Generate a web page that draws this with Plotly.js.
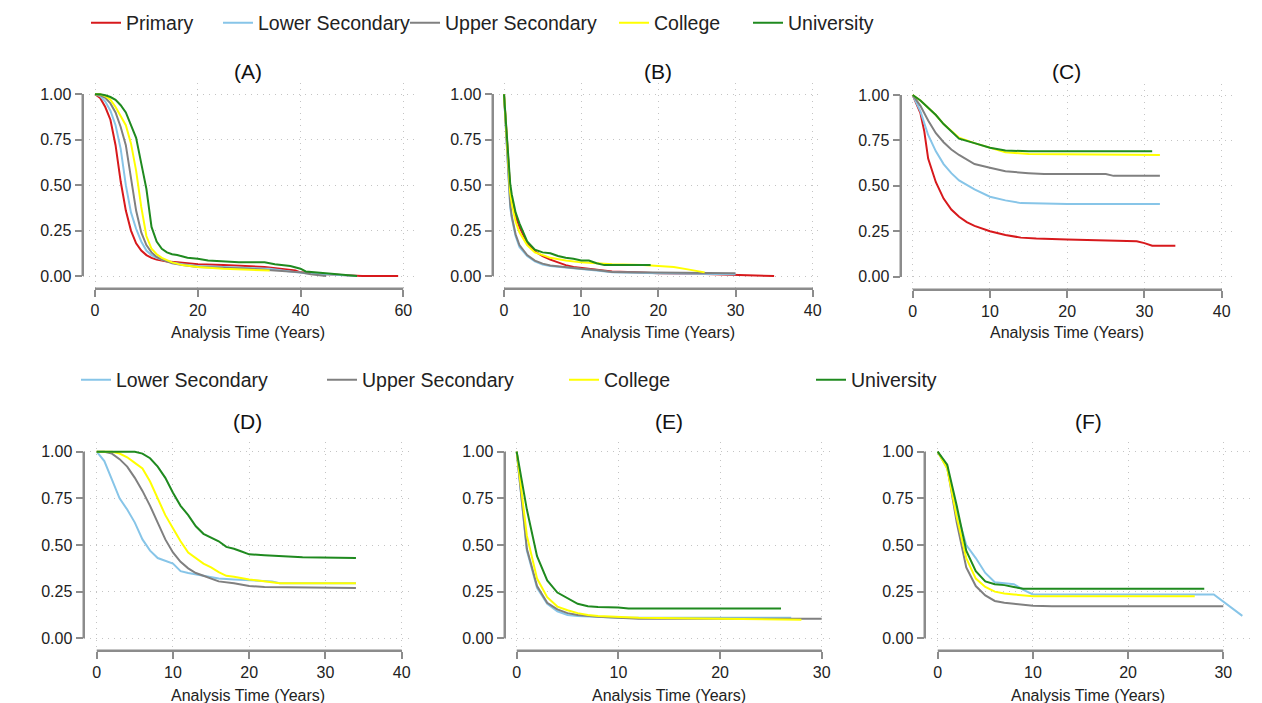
<!DOCTYPE html>
<html><head><meta charset="utf-8">
<script src="https://cdn.plot.ly/plotly-3.0.1.min.js"></script>
<style>html,body{margin:0;padding:0;background:#fff}#chart{width:1262px;height:703px}</style>
</head><body><div id="chart"></div>
<script>
// ---------- DATA ----------
const categories = ['Primary', 'Lower Secondary', 'Upper Secondary', 'College', 'University'];
const panelLabels = ['(A)', '(B)', '(C)', '(D)', '(E)', '(F)'];
const xAxisTitle = 'Analysis Time (Years)';
const yTicks = [0, 0.25, 0.5, 0.75, 1];
const xTicksA = [0, 20, 40, 60];
const xTicksB = [0, 10, 20, 30, 40];
const xTicksC = [0, 10, 20, 30, 40];
const xTicksD = [0, 10, 20, 30, 40];
const xTicksE = [0, 10, 20, 30];
const xTicksF = [0, 10, 20, 30];

// Panel A
const A_primary_x = [0,1,2,3,4,5,6,7,8,9,10,11,12,14,16,18,20,25,30,33,36,39,40,42,45,48,52,59];
const A_primary_y = [1,0.98,0.93,0.86,0.72,0.52,0.36,0.25,0.18,0.14,0.115,0.10,0.09,0.08,0.075,0.07,0.065,0.06,0.055,0.05,0.04,0.03,0.02,0.015,0.01,0.005,0,0];
const A_lower_x = [0,1,2,3,4,5,6,7,8,9,10,11,12,13,15,17,20,25,30,34,38,41,45,51];
const A_lower_y = [1,0.99,0.96,0.91,0.83,0.70,0.50,0.35,0.26,0.19,0.14,0.115,0.10,0.09,0.075,0.065,0.055,0.05,0.045,0.04,0.025,0.015,0.01,0];
const A_upper_x = [0,1,2,3,4,5,6,7,8,9,10,11,12,13,15,17,20,25,30,35,40,42,45];
const A_upper_y = [1,0.995,0.98,0.95,0.90,0.82,0.72,0.53,0.36,0.24,0.17,0.13,0.105,0.09,0.07,0.06,0.05,0.045,0.04,0.03,0.02,0.01,0];
const A_college_x = [0,1,2,3,4,5,6,7,8,9,10,11,12,13,15,17,20,25,30,34];
const A_college_y = [1,1,0.99,0.97,0.93,0.88,0.83,0.73,0.58,0.38,0.22,0.15,0.12,0.10,0.075,0.06,0.05,0.04,0.035,0.03];
const A_univ_x = [0,1,2,3,4,5,6,7,8,9,10,11,12,13,14,15,16,18,20,22,25,28,33,35,38,40,41,45,48,51];
const A_univ_y = [1,1,0.995,0.985,0.97,0.94,0.90,0.83,0.76,0.62,0.48,0.27,0.19,0.15,0.13,0.12,0.115,0.10,0.095,0.085,0.08,0.075,0.075,0.065,0.055,0.04,0.025,0.015,0.01,0];

// Panel B
const B_primary_x = [0,0.4,0.8,1,1.5,2,3,4,5,6,7,8,9,10,12,14,17,20,25,30,35];
const B_primary_y = [1,0.72,0.48,0.42,0.33,0.27,0.18,0.135,0.11,0.09,0.075,0.06,0.05,0.045,0.035,0.025,0.02,0.015,0.012,0.008,0];
const B_lower_x = [0,0.4,0.8,1,1.5,2,3,4,5,6,8,10,12,14,20,25,30];
const B_lower_y = [1,0.65,0.38,0.32,0.22,0.16,0.11,0.08,0.063,0.055,0.045,0.038,0.03,0.02,0.015,0.012,0.01];
const B_upper_x = [0,0.4,0.8,1,1.5,2,3,4,5,6,8,10,12,14,16,20,25,30];
const B_upper_y = [1,0.66,0.40,0.33,0.23,0.17,0.115,0.085,0.068,0.058,0.048,0.04,0.033,0.022,0.02,0.018,0.016,0.015];
const B_college_x = [0,0.4,0.8,1,1.5,2,3,4,5,6,8,10,12,14,18,20,22,24,26];
const B_college_y = [1,0.70,0.46,0.40,0.30,0.24,0.17,0.13,0.115,0.10,0.085,0.075,0.07,0.065,0.06,0.055,0.05,0.035,0.02];
const B_univ_x = [0,0.4,0.8,1,1.5,2,3,4,5,6,7,8,9,10,11,12,13,19];
const B_univ_y = [1,0.75,0.51,0.45,0.35,0.29,0.19,0.145,0.13,0.125,0.11,0.10,0.095,0.085,0.085,0.07,0.06,0.06];

// Panel C
const C_primary_x = [0,1,1.5,2,3,4,5,6,7,8,10,12,14,16,20,25,29,30,31,34];
const C_primary_y = [1,0.90,0.80,0.65,0.52,0.43,0.37,0.33,0.30,0.28,0.25,0.23,0.215,0.21,0.205,0.20,0.195,0.185,0.17,0.17];
const C_lower_x = [0,1,2,3,4,5,6,8,10,12,14,20,32];
const C_lower_y = [1,0.91,0.78,0.69,0.62,0.57,0.53,0.48,0.44,0.42,0.405,0.40,0.40];
const C_upper_x = [0,1,2,3,4,5,6,8,10,12,15,17,25,26,32];
const C_upper_y = [1,0.94,0.86,0.79,0.74,0.70,0.67,0.62,0.60,0.58,0.57,0.565,0.565,0.555,0.555];
const C_college_x = [0,1,2,3,4,5,6,8,10,12,15,32];
const C_college_y = [1,0.97,0.93,0.89,0.84,0.80,0.765,0.735,0.71,0.685,0.675,0.67];
const C_univ_x = [0,1,2,3,4,5,6,8,10,12,15,31];
const C_univ_y = [1,0.97,0.93,0.89,0.84,0.80,0.76,0.735,0.71,0.695,0.69,0.69];

// Panel D
const D_lower_x = [0,1,2,3,4,5,6,7,8,9,10,11,12,14,16,18,20,23,24,34];
const D_lower_y = [1,0.95,0.85,0.75,0.69,0.62,0.53,0.47,0.43,0.415,0.40,0.36,0.35,0.335,0.32,0.315,0.31,0.305,0.295,0.295];
const D_upper_x = [0,1,2,3,4,5,6,7,8,9,10,11,12,13,14,15,16,18,20,22,34];
const D_upper_y = [1,1,0.99,0.96,0.92,0.86,0.79,0.71,0.62,0.53,0.46,0.41,0.375,0.35,0.335,0.32,0.305,0.295,0.28,0.275,0.27];
const D_college_x = [0,2,3,4,5,6,7,8,9,10,11,12,13,14,15,16,17,18,20,22,24,34];
const D_college_y = [1,1,0.99,0.97,0.94,0.91,0.84,0.75,0.66,0.59,0.52,0.46,0.43,0.40,0.38,0.355,0.335,0.33,0.315,0.305,0.295,0.295];
const D_univ_x = [0,5,6,7,8,9,10,11,12,13,14,15,16,17,18,19,20,22,25,27,34];
const D_univ_y = [1,1,0.99,0.965,0.92,0.86,0.78,0.71,0.66,0.60,0.56,0.54,0.52,0.49,0.48,0.465,0.45,0.445,0.44,0.435,0.43];

// Panel E
const E_lower_x = [0,1,2,3,4,5,6,8,10,20,27];
const E_lower_y = [1,0.47,0.27,0.185,0.145,0.125,0.12,0.113,0.11,0.11,0.11];
const E_upper_x = [0,1,2,3,4,5,6,7,8,10,12,30];
const E_upper_y = [1,0.48,0.28,0.19,0.155,0.135,0.125,0.118,0.115,0.11,0.105,0.105];
const E_college_x = [0,1,2,3,4,5,6,7,8,10,12,20,28];
const E_college_y = [1,0.55,0.32,0.22,0.17,0.15,0.135,0.125,0.12,0.115,0.11,0.105,0.10];
const E_univ_x = [0,1,2,3,4,5,6,7,8,10,11,26];
const E_univ_y = [1,0.69,0.44,0.31,0.245,0.215,0.185,0.172,0.168,0.165,0.16,0.16];

// Panel F
const F_lower_x = [0,1,2,3,4,5,6,7,8,9,10,29,32];
const F_lower_y = [1,0.91,0.68,0.50,0.43,0.35,0.30,0.295,0.29,0.26,0.235,0.235,0.12];
const F_upper_x = [0,1,2,3,4,5,6,7,8,10,12,30];
const F_upper_y = [1,0.92,0.62,0.38,0.28,0.23,0.20,0.19,0.185,0.175,0.172,0.172];
const F_college_x = [0,1,2,3,4,5,6,7,8,10,27];
const F_college_y = [1,0.91,0.65,0.43,0.32,0.275,0.25,0.24,0.235,0.225,0.225];
const F_univ_x = [0,1,2,3,4,5,6,7,8,9,10,28];
const F_univ_y = [1,0.93,0.71,0.47,0.36,0.305,0.29,0.285,0.275,0.265,0.265,0.265];

// ---------- STYLE / LAYOUT ----------
const W = 1262, H = 703;
const FONT = 'Arial, "Liberation Sans", Helvetica, sans-serif';
const colorOf = {
  'Primary': '#d7191c',
  'Lower Secondary': '#87c5e8',
  'Upper Secondary': '#808080',
  'College': '#ffff00',
  'University': '#1f8a1f'
};
const AXIS_GRAY = '#8c8c8c';

const panels = [
  {label: panelLabels[0], ticks: xTicksA, xEnd: 60,
   series: [['Primary', A_primary_x, A_primary_y], ['Lower Secondary', A_lower_x, A_lower_y], ['Upper Secondary', A_upper_x, A_upper_y], ['College', A_college_x, A_college_y], ['University', A_univ_x, A_univ_y]],
   g: {left: 82.5, right: 414, top: 83, bottom: 288.5, x0px: 95, xEndPx: 403.3, y0px: 276, y1px: 94.3, titleY: 71, axTitleY: 333}, legendRow: 0},
  {label: panelLabels[1], ticks: xTicksB, xEnd: 40,
   series: [['Primary', B_primary_x, B_primary_y], ['Lower Secondary', B_lower_x, B_lower_y], ['Upper Secondary', B_upper_x, B_upper_y], ['College', B_college_x, B_college_y], ['University', B_univ_x, B_univ_y]],
   g: {left: 492.5, right: 823, top: 83, bottom: 288.5, x0px: 504, xEndPx: 812.7, y0px: 276, y1px: 94.3, titleY: 71, axTitleY: 333}},
  {label: panelLabels[2], ticks: xTicksC, xEnd: 40,
   series: [['Primary', C_primary_x, C_primary_y], ['Lower Secondary', C_lower_x, C_lower_y], ['Upper Secondary', C_upper_x, C_upper_y], ['College', C_college_x, C_college_y], ['University', C_univ_x, C_univ_y]],
   g: {left: 900.5, right: 1233, top: 84, bottom: 289.5, x0px: 912.7, xEndPx: 1221.7, y0px: 276.7, y1px: 95, titleY: 71, axTitleY: 333}},
  {label: panelLabels[3], ticks: xTicksD, xEnd: 40,
   series: [['Lower Secondary', D_lower_x, D_lower_y], ['Upper Secondary', D_upper_x, D_upper_y], ['College', D_college_x, D_college_y], ['University', D_univ_x, D_univ_y]],
   g: {left: 83.5, right: 412, top: 441.7, bottom: 650.5, x0px: 96.7, xEndPx: 401.7, y0px: 638.3, y1px: 451.7, titleY: 422, axTitleY: 695}, legendRow: 1},
  {label: panelLabels[4], ticks: xTicksE, xEnd: 30,
   series: [['Lower Secondary', E_lower_x, E_lower_y], ['Upper Secondary', E_upper_x, E_upper_y], ['College', E_college_x, E_college_y], ['University', E_univ_x, E_univ_y]],
   g: {left: 504.5, right: 834, top: 441.7, bottom: 650.5, x0px: 516.7, xEndPx: 821.7, y0px: 638.3, y1px: 451.7, titleY: 422, axTitleY: 695}},
  {label: panelLabels[5], ticks: xTicksF, xEnd: 30,
   series: [['Lower Secondary', F_lower_x, F_lower_y], ['Upper Secondary', F_upper_x, F_upper_y], ['College', F_college_x, F_college_y], ['University', F_univ_x, F_univ_y]],
   g: {left: 924.5, right: 1252, top: 441.7, bottom: 650.5, x0px: 937.7, xEndPx: 1223.3, y0px: 638.3, y1px: 451.7, titleY: 422, axTitleY: 695}}
];

// legend item text start positions (px) and row centre y
const legendRows = [
  {y: 23, textX: [126, 258, 445, 654, 788]},
  {y: 380, textX: [116, 362, 604, 851]}
];

const traces = [];
const layout = {
  width: W, height: H,
  margin: {l: 0, r: 0, t: 0, b: 0, autoexpand: false},
  paper_bgcolor: '#ffffff', plot_bgcolor: 'rgba(0,0,0,0)',
  font: {family: FONT, color: '#222'},
  showlegend: true,
  shapes: [],
  annotations: []
};

let legendCount = 0;
panels.forEach((p, i) => {
  const n = i + 1;
  const sfx = n === 1 ? '' : String(n);
  const xa = 'x' + sfx, ya = 'y' + sfx;
  const g = p.g;
  const sx = (g.xEndPx - g.x0px) / p.xEnd;
  const sy = (g.y0px - g.y1px);
  const xr = [(g.left - g.x0px) / sx, (g.right - g.x0px) / sx];
  const yr = [-(g.bottom - g.y0px) / sy, 1 + (g.y1px - g.top) / sy];

  const common = {
    ticks: 'outside', ticklen: 7, tickwidth: 2, tickcolor: AXIS_GRAY,
    showline: false, zeroline: false,
    showgrid: true, gridcolor: '#c4c4c4', gridwidth: 1, griddash: '1px,5px',
    tickfont: {family: FONT, size: 16, color: '#222'},
    fixedrange: true
  };
  layout['xaxis' + sfx] = Object.assign({}, common, {
    domain: [g.left / W, g.right / W], range: xr, anchor: ya,
    tickmode: 'array', tickvals: p.ticks, ticktext: p.ticks.map(String)
  });
  layout['yaxis' + sfx] = Object.assign({}, common, {
    domain: [1 - g.bottom / H, 1 - g.top / H], range: yr, anchor: xa,
    tickmode: 'array', tickvals: yTicks, ticktext: yTicks.map(v => v.toFixed(2))
  });

  // Stata-style offset axis lines: a frame axis pair whose domain is just the labelled range
  const m = n + 6;
  const frame = {
    showline: true, linecolor: AXIS_GRAY, linewidth: 2,
    showgrid: false, zeroline: false, showticklabels: false, ticks: '', fixedrange: true
  };
  layout['xaxis' + m] = Object.assign({}, frame, {
    domain: [g.x0px / W, g.xEndPx / W], range: [0, p.xEnd],
    anchor: 'free', position: 1 - g.bottom / H, side: 'bottom'
  });
  layout['yaxis' + m] = Object.assign({}, frame, {
    domain: [1 - g.y0px / H, 1 - g.y1px / H], range: [0, 1],
    anchor: 'free', position: g.left / W, side: 'left'
  });
  traces.push({type: 'scatter', mode: 'lines', x: [], y: [], xaxis: 'x' + m, yaxis: 'y' + m,
    showlegend: false, hoverinfo: 'skip'});

  // the same axis lines again as paper shapes, on top of everything
  layout.shapes.push({type: 'line', xref: 'paper', yref: 'paper', layer: 'above',
    x0: g.left / W, x1: g.left / W, y0: 1 - g.y0px / H, y1: 1 - g.y1px / H,
    line: {color: AXIS_GRAY, width: 2}});
  layout.shapes.push({type: 'line', xref: 'paper', yref: 'paper', layer: 'above',
    x0: g.x0px / W, x1: g.xEndPx / W, y0: 1 - g.bottom / H, y1: 1 - g.bottom / H,
    line: {color: AXIS_GRAY, width: 2}});

  // panel title and axis title
  layout.annotations.push({text: p.label, xref: xa + ' domain', x: 0.5, yref: 'paper', y: 1 - g.titleY / H,
    yanchor: 'middle', xanchor: 'center', showarrow: false, font: {family: FONT, size: 21, color: '#111'}});
  layout.annotations.push({text: xAxisTitle, xref: xa + ' domain', x: 0.5, yref: 'paper', y: 1 - g.axTitleY / H,
    yanchor: 'middle', xanchor: 'center', showarrow: false, font: {family: FONT, size: 16, color: '#222'}});

  p.series.forEach((s, k) => {
    const tr = {
      type: 'scatter', mode: 'lines', name: s[0], x: s[1], y: s[2],
      xaxis: xa, yaxis: ya,
      line: {color: colorOf[s[0]], width: 2, shape: 'linear'},
      hoverinfo: 'skip', showlegend: false
    };
    if (p.legendRow !== undefined) {
      legendCount += 1;
      const lid = legendCount === 1 ? 'legend' : 'legend' + legendCount;
      const row = legendRows[p.legendRow];
      tr.showlegend = true;
      tr.legend = lid;
      layout[lid] = {
        x: (row.textX[k] - 40) / W, xanchor: 'left',
        y: 1 - row.y / H, yanchor: 'middle',
        orientation: 'h', bgcolor: 'rgba(0,0,0,0)', borderwidth: 0,
        font: {family: FONT, size: 19.5, color: '#222'},
        itemwidth: 30, itemclick: false, itemdoubleclick: false
      };
    }
    traces.push(tr);
  });
});

Plotly.newPlot('chart', traces, layout, {displayModeBar: false, staticPlot: true});
</script>
</body></html>
